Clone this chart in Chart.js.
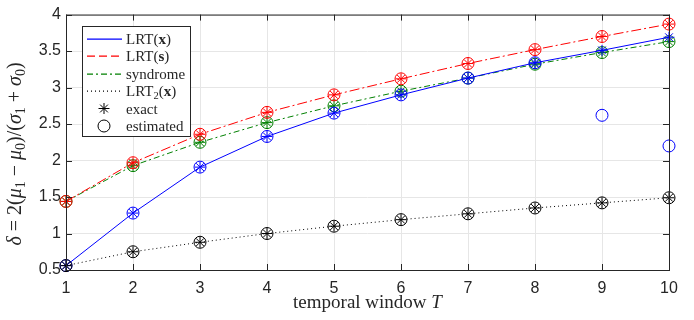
<!DOCTYPE html>
<html>
<head>
<meta charset="utf-8">
<script src="https://cdn.jsdelivr.net/npm/chart.js@4.4.1/dist/chart.umd.min.js"></script>
<style>
  html, body { margin: 0; padding: 0; background: #fff; }
  #wrap { width: 694px; height: 320px; }
</style>
</head>
<body>
<div id="wrap"><canvas id="chart" width="694" height="320"></canvas></div>
<script>
// values
const windows = [1, 2, 3, 4, 5, 6, 7, 8, 9, 10];
const lrtX = [0.56, 1.28, 1.91, 2.33, 2.65, 2.90, 3.13, 3.34, 3.51, 3.69];
const lrtXEst = [0.56, 1.28, 1.91, 2.33, 2.65, 2.90, 3.13, 3.34, 2.62, 2.20];
const lrtS = [1.44, 1.97, 2.36, 2.66, 2.90, 3.12, 3.33, 3.52, 3.70, 3.87];
const syndrome = [1.44, 1.93, 2.25, 2.52, 2.75, 2.95, 3.13, 3.32, 3.48, 3.63];
const lrt2 = [0.56, 0.75, 0.88, 1.00, 1.10, 1.19, 1.27, 1.35, 1.42, 1.49];
const yTicks = [0.5, 1, 1.5, 2, 2.5, 3, 3.5, 4];

const BLUE = '#0000ff', RED = '#ff0000', GREEN = '#008000', BLACK = '#000000';
const AXIS = '#262626';
const SERIF = '"Liberation Serif", "DejaVu Serif", serif';
const SANS = '"Liberation Sans", Arial, sans-serif';

function pts(vals) {
  return vals.map((v, i) => ({ x: windows[i], y: v }));
}

function lineSet(vals, color, dash) {
  return {
    data: pts(vals),
    borderColor: color,
    borderWidth: 1,
    borderDash: dash,
    pointStyle: 'star',
    pointRadius: 5.5,
    pointBorderColor: color,
    pointBorderWidth: 1,
    pointBackgroundColor: color,
    showLine: true,
    tension: 0,
    clip: false
  };
}

function circleSet(vals, color) {
  return {
    data: pts(vals),
    showLine: false,
    pointStyle: 'circle',
    pointRadius: 6,
    pointBorderColor: color,
    pointBorderWidth: 1,
    pointBackgroundColor: 'rgba(0,0,0,0)',
    clip: false
  };
}

// text made of runs (italic / bold / subscript pieces)
function setRunFont(ctx, r, size) {
  const s = r.sub ? size * 0.7 : size;
  ctx.font = (r.it ? 'italic ' : '') + (r.b ? 'bold ' : '') + s + 'px ' + SERIF;
}

function runWidth(ctx, runs, size) {
  let w = 0;
  runs.forEach(r => {
    setRunFont(ctx, r, size);
    w += ctx.measureText(r.t).width;
  });
  return w;
}

function drawRuns(ctx, runs, x, y, size) {
  ctx.textBaseline = 'alphabetic';
  ctx.textAlign = 'left';
  runs.forEach(r => {
    setRunFont(ctx, r, size);
    ctx.fillText(r.t, x, y + (r.sub ? size * 0.22 : 0));
    x += ctx.measureText(r.t).width;
  });
}

const yTitle = [
  { t: 'δ', it: true }, { t: ' = 2(' }, { t: 'μ', it: true }, { t: '1', sub: true },
  { t: ' − ' }, { t: 'μ', it: true }, { t: '0', sub: true }, { t: ')/(' },
  { t: 'σ', it: true }, { t: '1', sub: true }, { t: ' + ' }, { t: 'σ', it: true },
  { t: '0', sub: true }, { t: ')' }
];
const xTitle = [{ t: 'temporal window ' }, { t: 'T', it: true }];

const legendItems = [
  { runs: [{ t: 'LRT(' }, { t: 'x', b: true }, { t: ')' }], line: BLUE, dash: [] },
  { runs: [{ t: 'LRT(' }, { t: 's', b: true }, { t: ')' }], line: RED, dash: [8, 4] },
  { runs: [{ t: 'syndrome' }], line: GREEN, dash: [6, 3, 2, 3] },
  { runs: [{ t: 'LRT' }, { t: '2', sub: true }, { t: '(' }, { t: 'x', b: true }, { t: ')' }], line: BLACK, dash: [1, 3] },
  { runs: [{ t: 'exact' }], marker: 'star' },
  { runs: [{ t: 'estimated' }], marker: 'circle' }
];

const decorPlugin = {
  id: 'decor',
  afterDraw(chart) {
    const ctx = chart.ctx;
    const a = chart.chartArea;
    const xs = chart.scales.x, ys = chart.scales.y;
    ctx.save();
    // axes box with inward ticks
    ctx.strokeStyle = AXIS;
    ctx.lineWidth = 1;
    ctx.strokeRect(a.left + 0.5, a.top + 0.5, a.right - a.left, a.bottom - a.top);
    ctx.beginPath();
    windows.forEach(v => {
      const px = Math.round(xs.getPixelForValue(v)) + 0.5;
      ctx.moveTo(px, a.bottom); ctx.lineTo(px, a.bottom - 6);
      ctx.moveTo(px, a.top); ctx.lineTo(px, a.top + 6);
    });
    yTicks.forEach(v => {
      const py = Math.round(ys.getPixelForValue(v)) + 0.5;
      ctx.moveTo(a.left, py); ctx.lineTo(a.left + 6, py);
      ctx.moveTo(a.right, py); ctx.lineTo(a.right - 6, py);
    });
    ctx.stroke();

    // axis titles
    ctx.fillStyle = AXIS;
    const xw = runWidth(ctx, xTitle, 19);
    drawRuns(ctx, xTitle, (a.left + a.right) / 2 - xw / 2, 308, 19);
    ctx.save();
    ctx.translate(21, 154);
    ctx.rotate(-Math.PI / 2);
    const yw = runWidth(ctx, yTitle, 20);
    drawRuns(ctx, yTitle, -yw / 2, 0, 20);
    ctx.restore();

    // legend box
    const lx = 82, ly = 26, lw = 108, lh = 110;
    ctx.fillStyle = '#ffffff';
    ctx.fillRect(lx, ly, lw, lh);
    ctx.strokeStyle = AXIS;
    ctx.strokeRect(lx + 0.5, ly + 0.5, lw, lh);
    legendItems.forEach((item, i) => {
      const cy = 38.5 + i * 17.5;
      if (item.line) {
        ctx.strokeStyle = item.line;
        ctx.lineWidth = 1.2;
        ctx.setLineDash(item.dash);
        ctx.beginPath();
        ctx.moveTo(87, Math.round(cy) + 0.2);
        ctx.lineTo(122, Math.round(cy) + 0.2);
        ctx.stroke();
        ctx.setLineDash([]);
        ctx.lineWidth = 1;
      } else {
        ctx.strokeStyle = BLACK;
        ctx.fillStyle = 'rgba(0,0,0,0)';
        Chart.helpers.drawPoint(ctx, {
          pointStyle: item.marker, radius: item.marker === 'star' ? 5.5 : 6, borderWidth: 1
        }, 104, cy);
      }
      ctx.fillStyle = AXIS;
      drawRuns(ctx, item.runs, 126, cy + 5, 15);
    });
    ctx.restore();
  }
};

new Chart(document.getElementById('chart'), {
  type: 'scatter',
  data: {
    datasets: [
      lineSet(lrt2, BLACK, [1, 3]),
      circleSet(lrt2, BLACK),
      lineSet(lrtX, BLUE, []),
      circleSet(lrtXEst, BLUE),
      lineSet(lrtS, RED, [10, 3, 2, 3]),
      circleSet(lrtS, RED),
      lineSet(syndrome, GREEN, [6, 3, 2, 3]),
      circleSet(syndrome, GREEN)
    ]
  },
  options: {
    responsive: false,
    animation: false,
    layout: { padding: { top: 12, right: 25, left: 0, bottom: 0 } },
    plugins: { legend: { display: false }, tooltip: { enabled: false } },
    scales: {
      x: {
        type: 'linear', min: 1, max: 10,
        ticks: { stepSize: 1, padding: 9, color: AXIS, font: { family: SANS, size: 16 } },
        grid: { color: '#e6e6e6', drawTicks: false },
        border: { display: false },
        afterFit(scale) { scale.height = 50; }
      },
      y: {
        type: 'linear', min: 0.5, max: 4,
        ticks: {
          stepSize: 0.5, padding: 5, color: AXIS, font: { family: SANS, size: 16 },
          callback: v => String(v)
        },
        grid: { color: '#e6e6e6', drawTicks: false },
        border: { display: false },
        afterFit(scale) { scale.width = 66; }
      }
    }
  },
  plugins: [decorPlugin]
});
</script>
</body>
</html>
